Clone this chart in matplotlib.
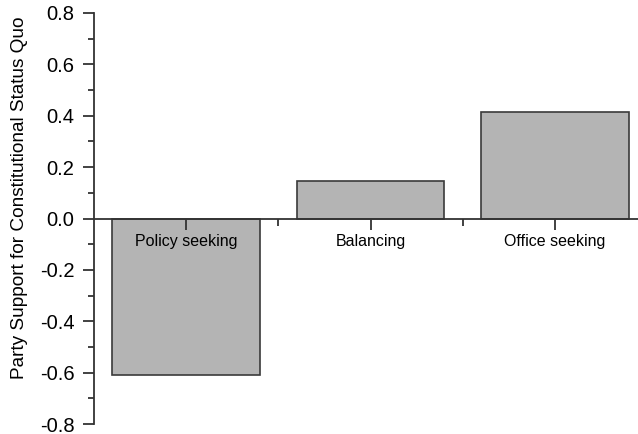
import numpy as np
import matplotlib.pyplot as plt
from matplotlib.ticker import MultipleLocator, FixedLocator

# data
categories = ["Policy seeking", "Balancing", "Office seeking"]
support = [-0.609, 0.146, 0.416]

plt.rcParams['font.family'] = ['Liberation Sans', 'DejaVu Sans']

fig = plt.figure(figsize=(6.38, 4.34), dpi=100)
ax = fig.add_axes([94/638, 10/434, 1 - 94/638, 411/434])
ax.set_axisbelow(False)

x = np.arange(1, len(categories) + 1)
ax.bar(x, support, width=0.8, color='#b4b4b4', edgecolor='#3a3a3a', linewidth=1.2, zorder=2)

ax.set_xlim(0.5, 3.45)
ax.set_ylim(-0.8, 0.8)

# x axis sits at zero, no frame other than left spine
for s in ['top', 'right']:
    ax.spines[s].set_visible(False)
ax.spines['bottom'].set_position(('data', 0))
for s in ['left', 'bottom']:
    ax.spines[s].set_color('#333333')
    ax.spines[s].set_linewidth(1.3)
    ax.spines[s].set_zorder(3)

ax.yaxis.set_major_locator(MultipleLocator(0.2))
ax.yaxis.set_minor_locator(MultipleLocator(0.1))
ax.set_yticklabels([f"{v:.1f}" for v in ax.get_yticks()])
ax.tick_params(axis='y', which='major', length=8, width=1.3, color='#333333', labelsize=14.5, pad=6)
ax.tick_params(axis='y', which='minor', length=4, width=1.3, color='#333333')

ax.set_xticks(x)
ax.set_xticklabels(categories)
ax.xaxis.set_minor_locator(FixedLocator([1.5, 2.5]))
ax.tick_params(axis='x', which='major', length=8, width=1.3, color='#333333', labelsize=11.5, pad=3)
ax.tick_params(axis='x', which='minor', length=5, width=1.3, color='#333333')

ax.set_ylabel("Party Support for Constitutional Status Quo", fontsize=13.7)
ax.yaxis.set_label_coords(-0.122, 0.55)

fig.savefig("out.png", dpi=100)
